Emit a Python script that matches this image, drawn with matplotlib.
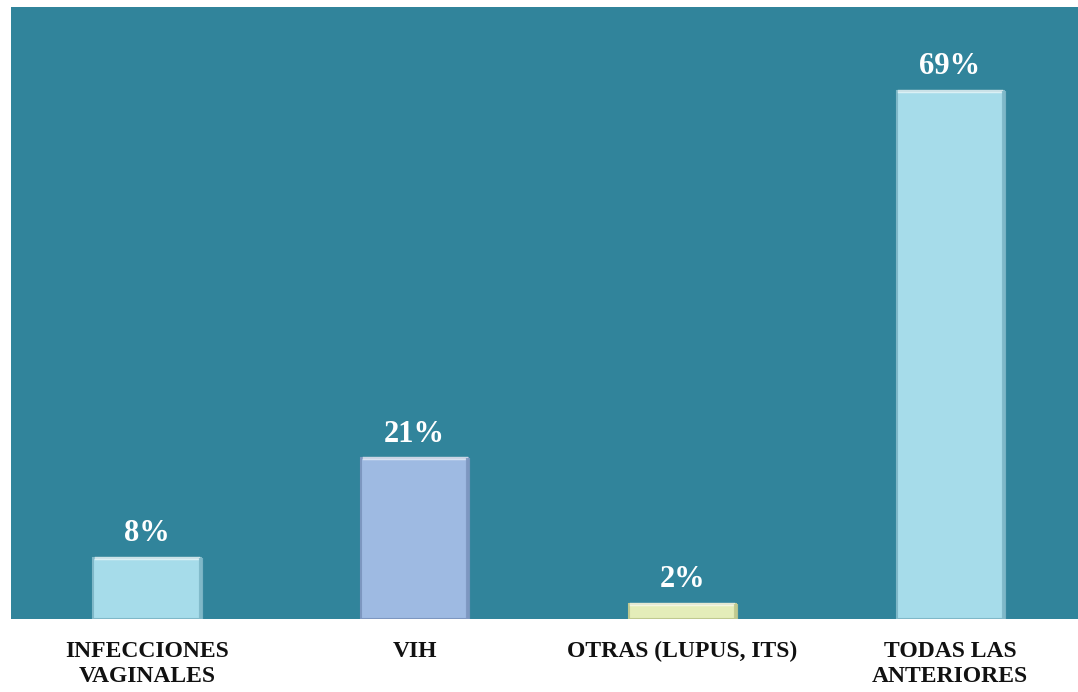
import matplotlib
matplotlib.use("Agg")
import matplotlib.pyplot as plt

categories = ["INFECCIONES\nVAGINALES", "VIH", "OTRAS (LUPUS, ITS)", "TODAS LAS\nANTERIORES"]
values = [8, 21, 2, 69]
bar_colors = ["#A6DCEA", "#9EBAE2", "#E4EDB9", "#A6DCEA"]
edge_colors = ["#7FB8C8", "#7D97C0", "#BFC98F", "#7FB8C8"]

plt.rcParams["font.family"] = ["Liberation Serif", "DejaVu Serif"]

fig = plt.figure(figsize=(10.78, 6.92), dpi=100)
ax = fig.add_axes([11 / 1078, 73 / 692, 1 - 11 / 1078, (619 - 7) / 692])
ax.set_facecolor("#31849B")

x = range(len(categories))
bars = ax.bar(x, values, width=0.4, color=bar_colors, edgecolor=edge_colors, linewidth=1.5, zorder=3)
for b, ec in zip(bars, edge_colors):
    x0, x1, h = b.get_x(), b.get_x() + b.get_width(), b.get_height()
    # lighter top highlight and darker right side for a bevelled look
    ax.plot([x0 + 0.01, x1 - 0.01], [h, h], color="white", alpha=0.6, lw=2.5, zorder=4)
    ax.plot([x1, x1], [0, h], color=ec, lw=3, alpha=0.9, zorder=4, solid_capstyle="butt")

for xi, v in zip(x, values):
    ax.annotate(f"{v}%", (xi, v), xytext=(0, 7), textcoords="offset points",
                ha="center", va="bottom", color="white", fontsize=22, fontweight="bold")

ax.set_xlim(-0.508, 3.478)
ax.set_ylim(0, 80)
ax.set_xticks(list(x))
ax.set_xticklabels(categories, fontsize=17, fontweight="bold", color="#111111", linespacing=1.25)
ax.tick_params(axis="x", length=0, pad=16)
ax.set_yticks([])
for s in ax.spines.values():
    s.set_visible(False)

fig.savefig("out.png", dpi=100, facecolor="white")
